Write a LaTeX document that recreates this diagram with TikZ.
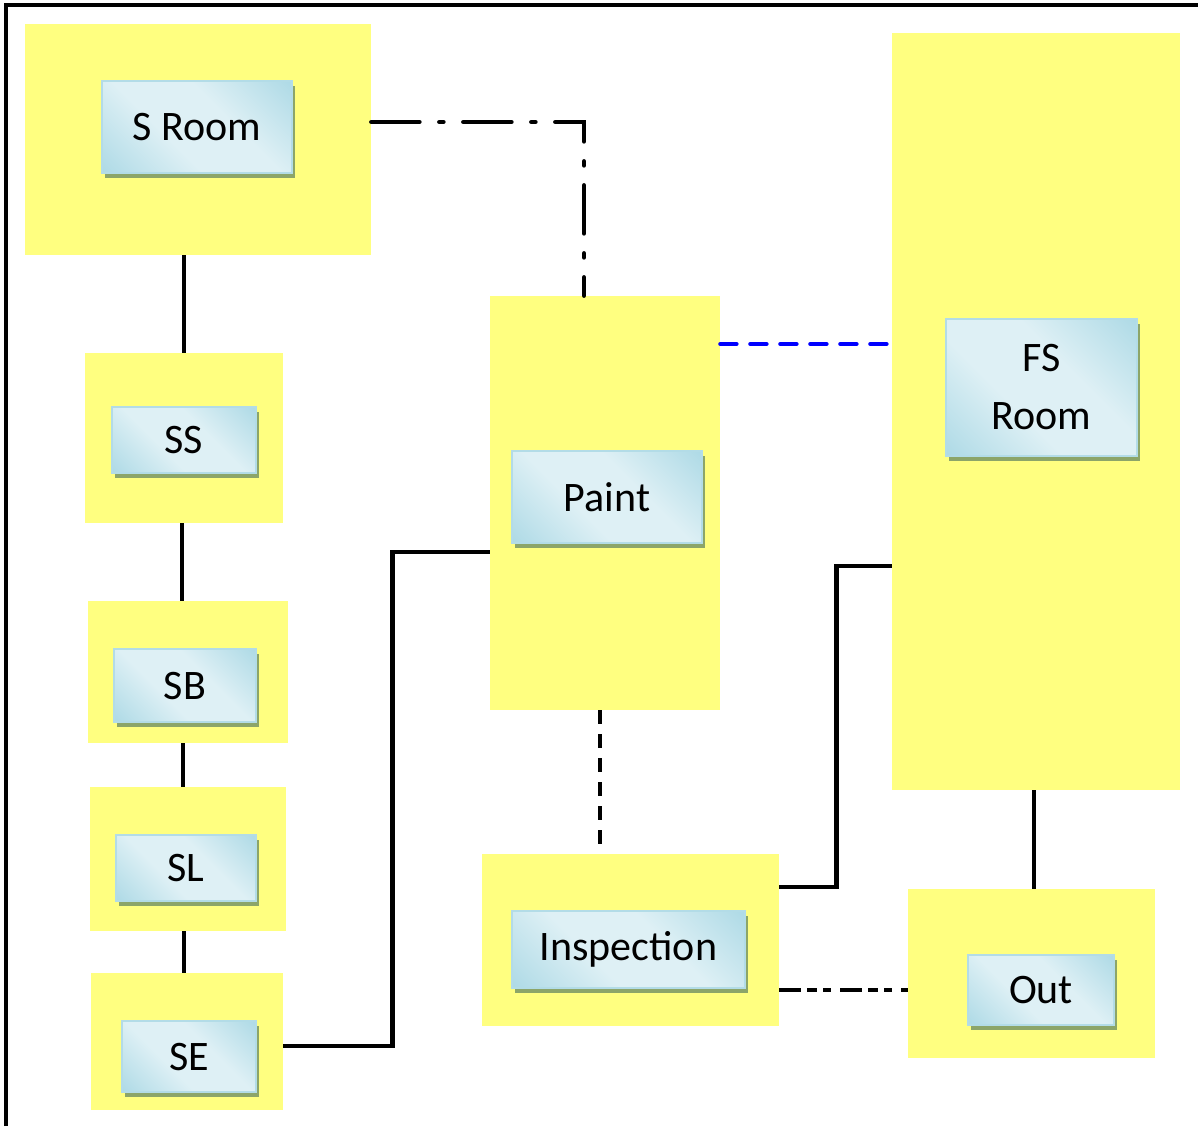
\documentclass[tikz,border=0pt]{standalone}
\usepackage{fontspec}
\setmainfont{Carlito}
\usepackage{tikz}
\usetikzlibrary{shadows, calc}
\usepackage{xcolor}

\definecolor{zoneyel}{RGB}{255,255,128}
\definecolor{lbdark}{RGB}{146,205,221}
\definecolor{lblight}{RGB}{222,240,245}
\definecolor{shadegreen}{RGB}{140,165,105}
\definecolor{linkblue}{RGB}{0,0,255}
\pgfdeclarehorizontalshading{lblshade}{100bp}{color(0bp)=(lbdark); color(40bp)=(lblight); color(60bp)=(lblight); color(100bp)=(lbdark)}

\begin{document}
\begin{tikzpicture}[x=0.5pt, y=-0.5pt,
    zone/.style={fill=zoneyel, draw=none, inner sep=0pt},
    lbl/.style={shading=lblshade, shading angle=45, draw=lbdark!70!white,
      line width=0.8pt, inner sep=0pt, align=center,
      font=\fontsize{21}{29}\selectfont,
      drop shadow={shadow xshift=1.5pt, shadow yshift=-2.5pt, fill=shadegreen, opacity=1}},
    link/.style={line width=2.3pt},
    dashdotlink/.style={line width=2.3pt, line cap=round,
      dash pattern=on 24pt off 10pt on 2pt off 10pt},
    bluelink/.style={line width=2.2pt, line cap=round, draw=linkblue,
      dash pattern=on 8pt off 7pt},
    thinlink/.style={line width=1.7pt, dash pattern=on 7pt off 5pt},
    dashdotdotlink/.style={line width=1.9pt,
      dash pattern=on 11pt off 3pt on 5pt off 3pt on 4pt off 4.5pt}]

  \useasboundingbox (0,0) rectangle (1198,1126);

  % frame
  \draw[line width=1.75pt] (6,1126) -- (6,5) -- (1198,5);

  % yellow zones
  \node[zone, minimum width=173pt, minimum height=115.5pt] (srz) at (198,139.5) {};
  \node[zone, minimum width=99pt, minimum height=85pt] (ssz) at (184,438) {};
  \node[zone, minimum width=100pt, minimum height=71pt] (sbz) at (188,672) {};
  \node[zone, minimum width=98pt, minimum height=72pt] (slz) at (188,859) {};
  \node[zone, minimum width=96pt, minimum height=68.5pt] (sez) at (187,1041.5) {};
  \node[zone, minimum width=115pt, minimum height=207pt] (pntz) at (605,503) {};
  \node[zone, minimum width=144pt, minimum height=378.5pt] (fsz) at (1036,411.5) {};
  \node[zone, minimum width=148.5pt, minimum height=86pt] (inspz) at (630.5,940) {};
  \node[zone, minimum width=123.5pt, minimum height=84.5pt] (outz) at (1031.5,973.5) {};

  % labels
  \node[lbl, minimum width=95pt, minimum height=46pt] (sr) at (197,127) {S Room};
  \node[lbl, minimum width=72pt, minimum height=33pt] (ss) at (184,440) {SS};
  \node[lbl, minimum width=71pt, minimum height=36.5pt] (sb) at (185,685.5) {SB};
  \node[lbl, minimum width=70pt, minimum height=33pt] (sl) at (186,868) {SL};
  \node[lbl, minimum width=67pt, minimum height=35.5pt] (se) at (189,1056.5) {SE};
  \node[lbl, minimum width=95pt, minimum height=46pt] (pnt) at (607,497) {Paint};
  \node[lbl, minimum width=95.5pt, minimum height=68.5pt] (fs) at (1041.5,387.5) {FS\\Room};
  \node[lbl, minimum width=116.5pt, minimum height=38.5pt] (insp) at (628.5,949.5) {Inspection};
  \node[lbl, minimum width=73pt, minimum height=35pt] (out) at (1041,990) {Out};

  % connectors
  \draw[link] (ssz.north |- srz.south) -- (ssz.north);
  \draw[link] ([xshift=-1pt]ssz.south) -- ([xshift=-1pt]ssz.south |- sbz.north);
  \draw[link] ([xshift=-2.5pt]sbz.south) -- ([xshift=-2.5pt]sbz.south |- slz.north);
  \draw[link] ([xshift=-2pt]slz.south) -- ([xshift=-2pt]slz.south |- sez.north);
  \draw[link] ([yshift=-2.25pt]sez.east) -- ++(109,0) |- ([yshift=-24.5pt]pntz.west);
  \draw[dashdotlink] ([yshift=8.75pt]srz.east) -| ([xshift=-10.5pt]pntz.north);
  \draw[bluelink] ([yshift=79.5pt]pntz.east) coordinate (pe) -- (pe -| fsz.west);
  \draw[thinlink] ([xshift=-2.5pt]pntz.south) coordinate (ps) -- (ps |- inspz.north);
  \draw[link] ([yshift=26.5pt]inspz.east) -- ++(57,0) |- ([yshift=-77.25pt]fsz.west);
  \draw[dashdotdotlink] ([yshift=-25pt]inspz.east) coordinate (ie) -- (ie -| outz.west);
  \draw[link] ([xshift=-1pt]fsz.south) -- ([xshift=-1pt]fsz.south |- outz.north);
\end{tikzpicture}
\end{document}
